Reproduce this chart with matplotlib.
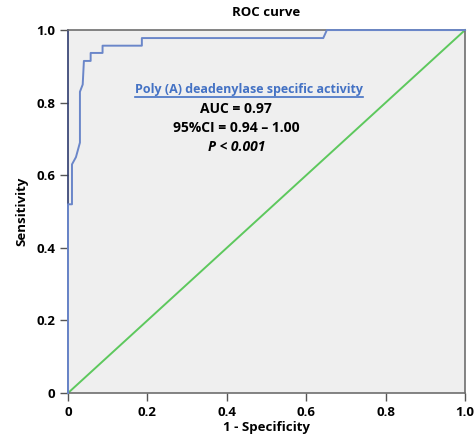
import matplotlib
matplotlib.use("Agg")
import matplotlib.pyplot as plt

plt.rcParams['font.family'] = ['Open Sans', 'DejaVu Sans']

# ROC curve points
fpr = [0, 0, 0.010, 0.010, 0.020, 0.030, 0.030, 0.037, 0.040, 0.057, 0.057,
       0.087, 0.087, 0.186, 0.186, 0.643, 0.652, 1.0]
tpr = [0, 0.52, 0.52, 0.63, 0.65, 0.69, 0.83, 0.85, 0.915, 0.915, 0.937,
       0.937, 0.957, 0.957, 0.978, 0.978, 1.0, 1.0]
ref_x = [0, 1]
ref_y = [0, 1]

ticks = [0, 0.2, 0.4, 0.6, 0.8, 1.0]
tick_labels = ["0", "0.2", "0.4", "0.6", "0.8", "1.0"]

fig = plt.figure(figsize=(4.74, 4.41), dpi=100)
ax = fig.add_axes([0.1435, 0.1088, 0.8375, 0.823])
ax.set_facecolor("#efefef")

ax.plot(ref_x, ref_y, color="#5dc85d", lw=1.4, clip_on=False, zorder=2)
ax.plot(fpr, tpr, color="#6a86c9", lw=1.4, clip_on=False, zorder=3)

ax.set_xlim(0, 1)
ax.set_ylim(0, 1)
ax.set_xticks(ticks)
ax.set_xticklabels(tick_labels)
ax.set_yticks(ticks)
ax.set_yticklabels(tick_labels)
ax.tick_params(direction="out", length=6, width=1, color="#555555",
               labelsize=9.5, pad=3)
for lab in ax.get_xticklabels() + ax.get_yticklabels():
    lab.set_fontweight("bold")
for s in ax.spines.values():
    s.set_color("#6e6e6e")
    s.set_linewidth(1.2)
ax.spines["left"].set_color("#2e3b6e")

ax.set_xlabel("1 - Specificity", fontsize=9.5, fontweight="bold", labelpad=2)
ax.set_ylabel("Sensitivity", fontsize=9.5, fontweight="bold", labelpad=6)
ax.set_title("ROC curve", fontsize=9.5, fontweight="bold", pad=10)

t = ax.text(0.455, 0.827, "Poly (A) deadenylase specific activity",
            color="#4472c4", fontsize=9, fontweight="bold",
            ha="center", va="baseline")
ax.text(0.424, 0.772, "AUC = 0.97", fontsize=10, fontweight="bold",
        ha="center", va="baseline")
ax.text(0.424, 0.720, "95%CI = 0.94 \u2013 1.00", fontsize=10,
        fontweight="bold", ha="center", va="baseline")
ax.text(0.424, 0.667, "P < 0.001", fontsize=10, fontweight="bold",
        style="italic", ha="center", va="baseline")

# underline under the blue label
fig.canvas.draw()
bb = t.get_window_extent().transformed(ax.transAxes.inverted())
ax.plot([bb.x0, bb.x1], [0.816, 0.816], color="#4472c4", lw=1.2)

fig.savefig("out.png", dpi=100)
